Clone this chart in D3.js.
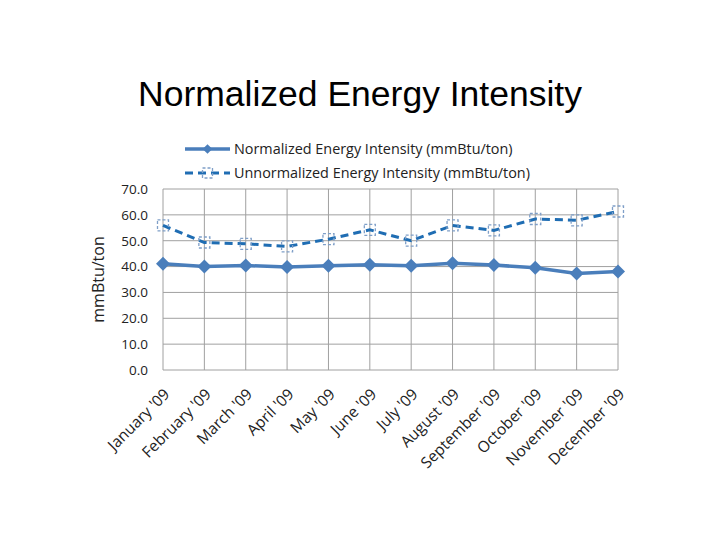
<!DOCTYPE html>
<html>
<head>
<meta charset="utf-8">
<script src="https://cdn.jsdelivr.net/npm/d3@7"></script>
<style>
  body { margin: 0; background: #fff; }
  text { font-family: "Open Sans", "Noto Sans", sans-serif; }
</style>
</head>
<body>
<script>
// chart data
const months = ["January '09", "February '09", "March '09", "April '09", "May '09", "June '09",
    "July '09", "August '09", "September '09", "October '09", "November '09", "December '09"];
const normalized = [41.1, 40.0, 40.4, 39.8, 40.3, 40.7, 40.3, 41.3, 40.6, 39.5, 37.3, 38.1];
const unnormalized = [55.9, 49.3, 48.8, 47.8, 50.6, 54.2, 50.0, 55.9, 54.0, 58.4, 57.9, 61.3];
const yTicks = [0, 10, 20, 30, 40, 50, 60, 70];
const seriesNames = ["Normalized Energy Intensity (mmBtu/ton)", "Unnormalized Energy Intensity (mmBtu/ton)"];

const svgWidth = 720;
const svgHeight = 540;

const margin = { left: 163, top: 189, right: 102, bottom: 170 };
const chartWidth = svgWidth - margin.left - margin.right;
const chartHeight = svgHeight - margin.top - margin.bottom;

const svg = d3.select("body")
    .append("svg")
    .attr("width", svgWidth)
    .attr("height", svgHeight);

svg.append("text")
    .attr("x", 360)
    .attr("y", 106)
    .attr("text-anchor", "middle")
    .style("font-family", "'Liberation Sans', Arial, sans-serif")
    .style("font-size", "35.5px")
    .attr("fill", "#000")
    .text("Normalized Energy Intensity");

const chart = svg.append("g")
    .attr("transform", `translate(${margin.left},${margin.top})`);

const xScale = d3.scalePoint()
    .domain(months)
    .range([0, chartWidth]);

const yScale = d3.scaleLinear()
    .domain([0, 70])
    .range([chartHeight, 0]);

// grid
chart.append("g")
    .selectAll("line.h")
    .data(yTicks)
    .enter()
    .append("line")
    .attr("x1", 0)
    .attr("x2", chartWidth)
    .attr("y1", d => yScale(d))
    .attr("y2", d => yScale(d))
    .attr("stroke", "#a0a0a0")
    .attr("stroke-width", 1);

chart.append("g")
    .selectAll("line.v")
    .data(months)
    .enter()
    .append("line")
    .attr("x1", d => xScale(d))
    .attr("x2", d => xScale(d))
    .attr("y1", 0)
    .attr("y2", chartHeight)
    .attr("stroke", "#a0a0a0")
    .attr("stroke-width", 1);

// axes
const leftAxis = d3.axisLeft(yScale)
    .tickValues(yTicks)
    .tickFormat(d3.format(".1f"))
    .tickSize(0)
    .tickPadding(15);

chart.append("g")
    .attr("id", "y-axis")
    .call(leftAxis)
    .call(g => g.select(".domain").remove())
    .selectAll("text")
    .style("font-family", "'Open Sans', sans-serif")
    .style("font-size", "13.5px")
    .attr("fill", "#222");

const bottomAxis = d3.axisBottom(xScale).tickSize(0);

chart.append("g")
    .attr("id", "x-axis")
    .attr("transform", `translate(0,${chartHeight})`)
    .call(bottomAxis)
    .call(g => g.select(".domain").remove())
    .selectAll("text")
    .style("font-family", "'Open Sans', sans-serif")
    .style("font-size", "15.5px")
    .attr("fill", "#222")
    .attr("text-anchor", "end")
    .attr("dy", "0")
    .attr("transform", "translate(5,23) rotate(-45)");

svg.append("text")
    .attr("transform", `translate(104,${margin.top + chartHeight / 2}) rotate(-90)`)
    .attr("text-anchor", "middle")
    .style("font-size", "16px")
    .attr("fill", "#222")
    .text("mmBtu/ton");

// lines
const line = d3.line()
    .x((d, i) => xScale(months[i]))
    .y(d => yScale(d));

chart.append("path")
    .datum(normalized)
    .attr("fill", "none")
    .attr("stroke", "#4a7ebb")
    .attr("stroke-width", 3.5)
    .attr("d", line);

chart.append("path")
    .datum(unnormalized)
    .attr("fill", "none")
    .attr("stroke", "#1f6db3")
    .attr("stroke-width", 3)
    .attr("stroke-dasharray", "8,5")
    .attr("d", line);

const diamond = d3.symbol().type(d3.symbolDiamond2).size(125);

chart.selectAll("path.dia")
    .data(normalized)
    .enter()
    .append("path")
    .attr("d", diamond)
    .attr("transform", (d, i) => `translate(${xScale(months[i])},${yScale(d)})`)
    .attr("fill", "#4a7ebb");

chart.selectAll("rect.sq")
    .data(unnormalized)
    .enter()
    .append("rect")
    .attr("x", (d, i) => xScale(months[i]) - 5.5)
    .attr("y", d => yScale(d) - 5.5)
    .attr("width", 11)
    .attr("height", 11)
    .attr("fill", "none")
    .attr("stroke", "#7f9fc8")
    .attr("stroke-width", 1.3)
    .attr("stroke-dasharray", "3,2");

// legend
const legend = svg.append("g").attr("transform", "translate(185,149)");

legend.append("line")
    .attr("x1", 0).attr("x2", 45).attr("y1", 0).attr("y2", 0)
    .attr("stroke", "#4a7ebb").attr("stroke-width", 3.5);
legend.append("path")
    .attr("d", d3.symbol().type(d3.symbolDiamond2).size(60))
    .attr("transform", "translate(22.5,0)")
    .attr("fill", "#4a7ebb");

legend.append("line")
    .attr("x1", 0).attr("x2", 45).attr("y1", 24).attr("y2", 24)
    .attr("stroke", "#1f6db3").attr("stroke-width", 3)
    .attr("stroke-dasharray", "8,5");
legend.append("rect")
    .attr("x", 17.5).attr("y", 19).attr("width", 10).attr("height", 10)
    .attr("fill", "none").attr("stroke", "#7f9fc8")
    .attr("stroke-width", 1.3).attr("stroke-dasharray", "3,2");

legend.selectAll("text")
    .data(seriesNames)
    .enter()
    .append("text")
    .attr("x", 49)
    .attr("y", (d, i) => i * 24 + 5)
    .style("font-size", "14.4px")
    .attr("fill", "#222")
    .text(d => d);
</script>
</body>
</html>
